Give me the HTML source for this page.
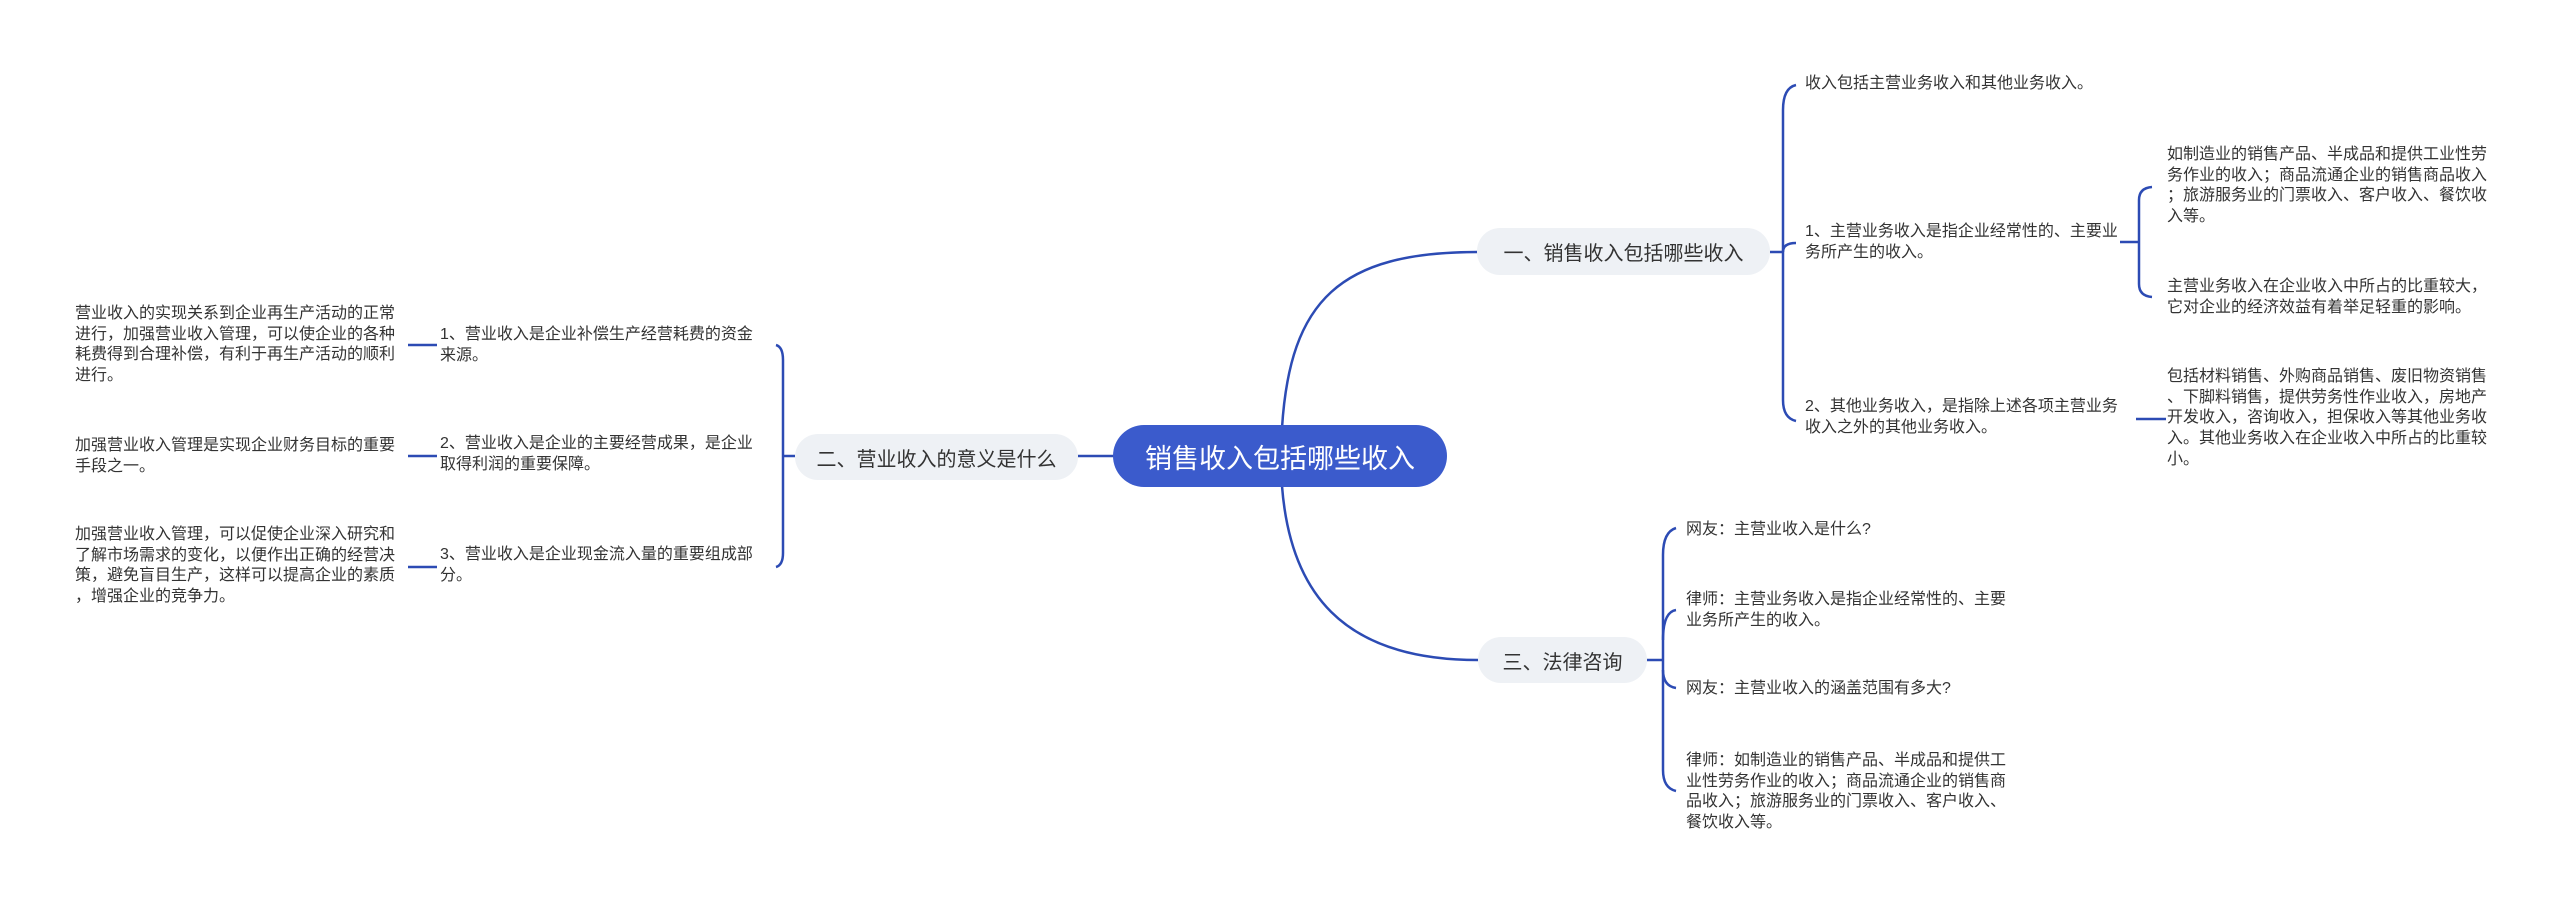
<!DOCTYPE html>
<html><head><meta charset="utf-8"><style>
body{margin:0;width:2560px;height:907px;background:#fff;position:relative;overflow:hidden;font-family:"Liberation Sans","Noto Sans CJK SC",sans-serif;}
.t{position:absolute;font-size:16px;line-height:20.7px;color:#333;line-break:anywhere;}
.b{position:absolute;background:#eef1f5;border-radius:23px;color:#333;font-size:20px;display:flex;align-items:center;justify-content:center;}
svg{position:absolute;left:0;top:0;}
</style></head><body>
<svg width="2560" height="907" fill="none" stroke="#2c4bb4" stroke-width="2.5">
<path d="M1282 428 C1290 300 1340 252 1478 252"/>
<path d="M1282 486 C1290 590 1340 660 1478 660"/>
<path d="M1115 456 L1078 456"/>
<path d="M1770 252 L1783 252"/>
<path d="M1796 85 Q1783 88 1783 110 L1783 400 Q1783 418 1796 421"/>
<path d="M1783 252 Q1783 243 1796 243"/>
<path d="M2120 242 L2139 242"/>
<path d="M2152 187 Q2139 188 2139 200 L2139 284 Q2139 296 2152 297"/>
<path d="M2136 419 L2166 419"/>
<path d="M795 456 L783 456"/>
<path d="M776 345 Q783 347 783 360 L783 553 Q783 565 776 567"/>
<path d="M408 345 L437 345"/>
<path d="M408 456 L437 456"/>
<path d="M408 567 L437 567"/>
<path d="M1647 660 L1663 660"/>
<path d="M1676 528 Q1663 532 1663 555 L1663 770 Q1663 788 1676 791"/>
<path d="M1663 640 Q1663 612 1676 610"/>
<path d="M1663 670 Q1663 686 1676 688"/>
</svg>
<div style="position:absolute;left:1113px;top:425px;width:334px;height:62px;background:#3b5bcc;border-radius:31px;color:#fff;font-size:27px;display:flex;align-items:center;justify-content:center;">销售收入包括哪些收入</div>
<div class="b" style="left:1477px;top:228px;width:293px;height:47px;">一、销售收入包括哪些收入</div>
<div class="b" style="left:795px;top:434px;width:283px;height:46px;">二、营业收入的意义是什么</div>
<div class="b" style="left:1478px;top:637px;width:169px;height:46px;">三、法律咨询</div>

<div class="t" style="left:1805px;top:74px;width:340px;">收入包括主营业务收入和其他业务收入。</div>
<div class="t" style="left:1805px;top:222px;width:322px;">1、主营业务收入是指企业经常性的、主要业务所产生的收入。</div>
<div class="t" style="left:1805px;top:397px;width:322px;">2、其他业务收入，是指除上述各项主营业务收入之外的其他业务收入。</div>
<div class="t" style="left:2167px;top:145px;width:322px;">如制造业的销售产品、半成品和提供工业性劳务作业的收入；商品流通企业的销售商品收入；旅游服务业的门票收入、客户收入、餐饮收入等。</div>
<div class="t" style="left:2167px;top:277px;width:330px;">主营业务收入在企业收入中所占的比重较大，它对企业的经济效益有着举足轻重的影响。</div>
<div class="t" style="left:2167px;top:367px;width:322px;">包括材料销售、外购商品销售、废旧物资销售、下脚料销售，提供劳务性作业收入，房地产开发收入，咨询收入，担保收入等其他业务收入。其他业务收入在企业收入中所占的比重较小。</div>

<div class="t" style="left:440px;top:325px;width:322px;">1、营业收入是企业补偿生产经营耗费的资金来源。</div>
<div class="t" style="left:440px;top:434px;width:322px;">2、营业收入是企业的主要经营成果，是企业取得利润的重要保障。</div>
<div class="t" style="left:440px;top:545px;width:322px;">3、营业收入是企业现金流入量的重要组成部分。</div>
<div class="t" style="left:75px;top:304px;width:322px;">营业收入的实现关系到企业再生产活动的正常进行，加强营业收入管理，可以使企业的各种耗费得到合理补偿，有利于再生产活动的顺利进行。</div>
<div class="t" style="left:75px;top:436px;width:322px;">加强营业收入管理是实现企业财务目标的重要手段之一。</div>
<div class="t" style="left:75px;top:525px;width:322px;">加强营业收入管理，可以促使企业深入研究和了解市场需求的变化，以便作出正确的经营决策，避免盲目生产，这样可以提高企业的素质，增强企业的竞争力。</div>

<div class="t" style="left:1686px;top:520px;width:322px;">网友：主营业收入是什么?</div>
<div class="t" style="left:1686px;top:590px;width:322px;">律师：主营业务收入是指企业经常性的、主要业务所产生的收入。</div>
<div class="t" style="left:1686px;top:679px;width:322px;">网友：主营业收入的涵盖范围有多大?</div>
<div class="t" style="left:1686px;top:751px;width:322px;">律师：如制造业的销售产品、半成品和提供工业性劳务作业的收入；商品流通企业的销售商品收入；旅游服务业的门票收入、客户收入、餐饮收入等。</div>
</body></html>
